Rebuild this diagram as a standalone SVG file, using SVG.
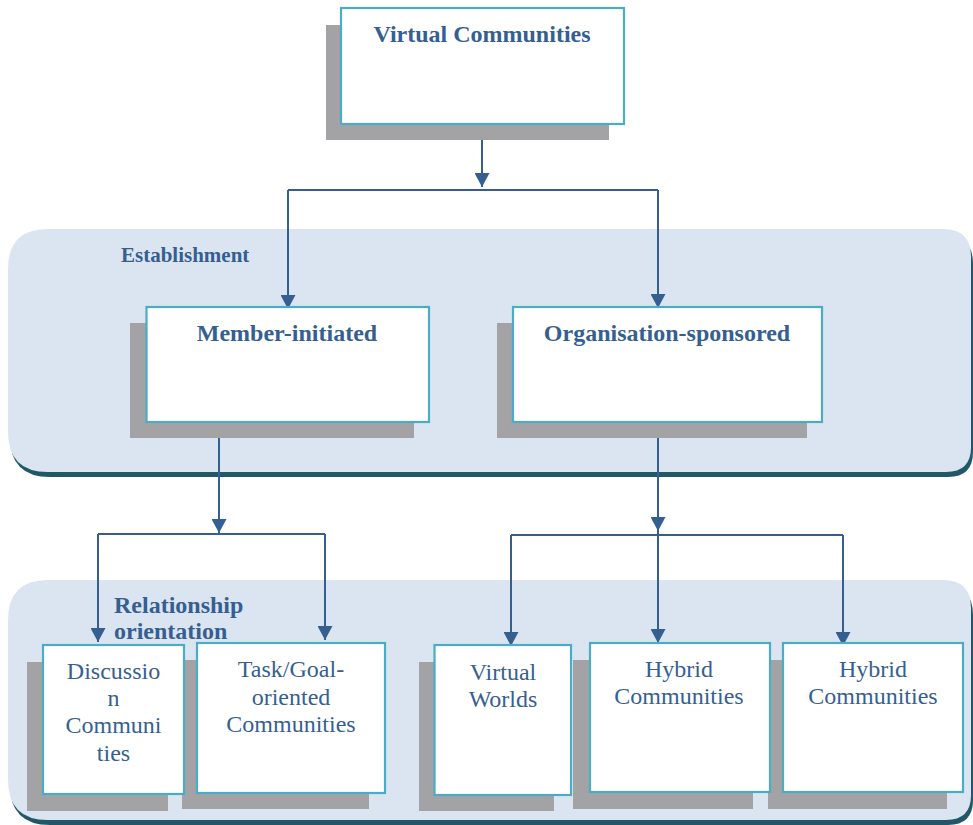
<svg xmlns="http://www.w3.org/2000/svg" width="973" height="825" viewBox="0 0 973 825">
<defs>
<style>
.panel{fill:#dbe5f1}
.pshadow{fill:#215867}
.shadow{fill:#a3a3a5}
.box{fill:#ffffff;stroke:#4bacc6;stroke-width:2.2}
.title{font-family:"Liberation Serif","Times New Roman",serif;font-weight:bold;font-size:24px;fill:#365f91;text-anchor:middle}
.label{font-family:"Liberation Serif","Times New Roman",serif;font-weight:bold;fill:#365f91}
.txt{font-family:"Liberation Serif","Times New Roman",serif;font-size:24px;fill:#365f91;text-anchor:middle}
.conn{fill:none;stroke:#365f91;stroke-width:2}
</style>
<marker id="arr" viewBox="0 0 14 15" markerWidth="14" markerHeight="15" refX="14" refY="7.5" orient="auto" markerUnits="userSpaceOnUse">
<path d="M0,0 L14,7.5 L0,15 z" fill="#365f91"/>
</marker>
</defs>
<rect width="973" height="825" fill="#ffffff"/>

<g id="panel-establishment">
<path class="pshadow" d="M50,234 H943 Q973,234 973,264 V452 Q973,477 948,477 H50 Q10,477 10,437 V274 Q10,234 50,234 Z"/>
<path class="panel" d="M48,229 H943 Q971,229 971,257 V447 Q971,472 946,472 H48 Q8,472 8,432 V269 Q8,229 48,229 Z"/>
<text class="label" x="121" y="262" font-size="21">Establishment</text>
</g>

<g id="panel-relationship">
<path class="pshadow" d="M50,585 H943 Q973,585 973,615 V800 Q973,825 948,825 H50 Q10,825 10,785 V625 Q10,585 50,585 Z"/>
<path class="panel" d="M48,580 H943 Q971,580 971,608 V795 Q971,820 946,820 H48 Q8,820 8,780 V620 Q8,580 48,580 Z"/>
<text class="label" x="114" y="613" font-size="24">Relationship</text>
<text class="label" x="114" y="639" font-size="24">orientation</text>
</g>

<g id="connectors">
<path class="conn" d="M482,124 V187" marker-end="url(#arr)"/>
<path class="conn" d="M288,190 H658"/>
<path class="conn" d="M288,190 V309" marker-end="url(#arr)"/>
<path class="conn" d="M658,190 V308" marker-end="url(#arr)"/>
<path class="conn" d="M219,422 V533" marker-end="url(#arr)"/>
<path class="conn" d="M98,534 H325"/>
<path class="conn" d="M98,534 V642" marker-end="url(#arr)"/>
<path class="conn" d="M325,534 V640" marker-end="url(#arr)"/>
<path class="conn" d="M658,422 V531" marker-end="url(#arr)"/>
<path class="conn" d="M658,531 V643" marker-end="url(#arr)"/>
<path class="conn" d="M511,535 H843"/>
<path class="conn" d="M511,535 V646" marker-end="url(#arr)"/>
<path class="conn" d="M843,535 V646" marker-end="url(#arr)"/>
</g>

<g id="virtual-communities">
<rect class="shadow" x="326" y="25" width="283" height="115"/>
<rect class="box" x="341" y="8" width="283" height="116"/>
<text class="title" x="482" y="42">Virtual Communities</text>
</g>

<g id="member-initiated">
<rect class="shadow" x="130" y="323" width="284" height="115"/>
<rect class="box" x="146.5" y="307" width="282.5" height="115"/>
<text class="title" x="287" y="341">Member-initiated</text>
</g>

<g id="organisation-sponsored">
<rect class="shadow" x="497" y="323" width="310" height="115"/>
<rect class="box" x="513" y="307" width="309" height="115"/>
<text class="title" x="667" y="341">Organisation-sponsored</text>
</g>

<g id="hybrid-communities-2">
<rect class="shadow" x="768" y="660" width="179" height="149"/>
<rect class="box" x="783" y="643" width="180" height="149"/>
<text class="txt" x="873" y="677">Hybrid</text>
<text class="txt" x="873" y="704">Communities</text>
</g>

<g id="hybrid-communities-1">
<rect class="shadow" x="573" y="660" width="180" height="149"/>
<rect class="box" x="590" y="643" width="180" height="149"/>
<text class="txt" x="679" y="677">Hybrid</text>
<text class="txt" x="679" y="704">Communities</text>
</g>

<g id="virtual-worlds">
<rect class="shadow" x="419" y="662" width="135" height="149"/>
<rect class="box" x="434.5" y="645" width="136.5" height="150"/>
<text class="txt" x="503" y="680">Virtual</text>
<text class="txt" x="503" y="707">Worlds</text>
</g>

<g id="task-goal-oriented">
<rect class="shadow" x="182" y="660" width="187" height="149"/>
<rect class="box" x="197" y="643" width="188" height="150"/>
<text class="txt" x="291" y="677">Task/Goal-</text>
<text class="txt" x="291" y="704.5">oriented</text>
<text class="txt" x="291" y="732">Communities</text>
</g>

<g id="discussion-communities">
<rect class="shadow" x="27" y="662" width="141" height="149"/>
<rect class="box" x="43" y="645" width="141" height="149"/>
<text class="txt" x="113.5" y="679">Discussio</text>
<text class="txt" x="113.5" y="706">n</text>
<text class="txt" x="113.5" y="733">Communi</text>
<text class="txt" x="113.5" y="760.5">ties</text>
</g>
</svg>
